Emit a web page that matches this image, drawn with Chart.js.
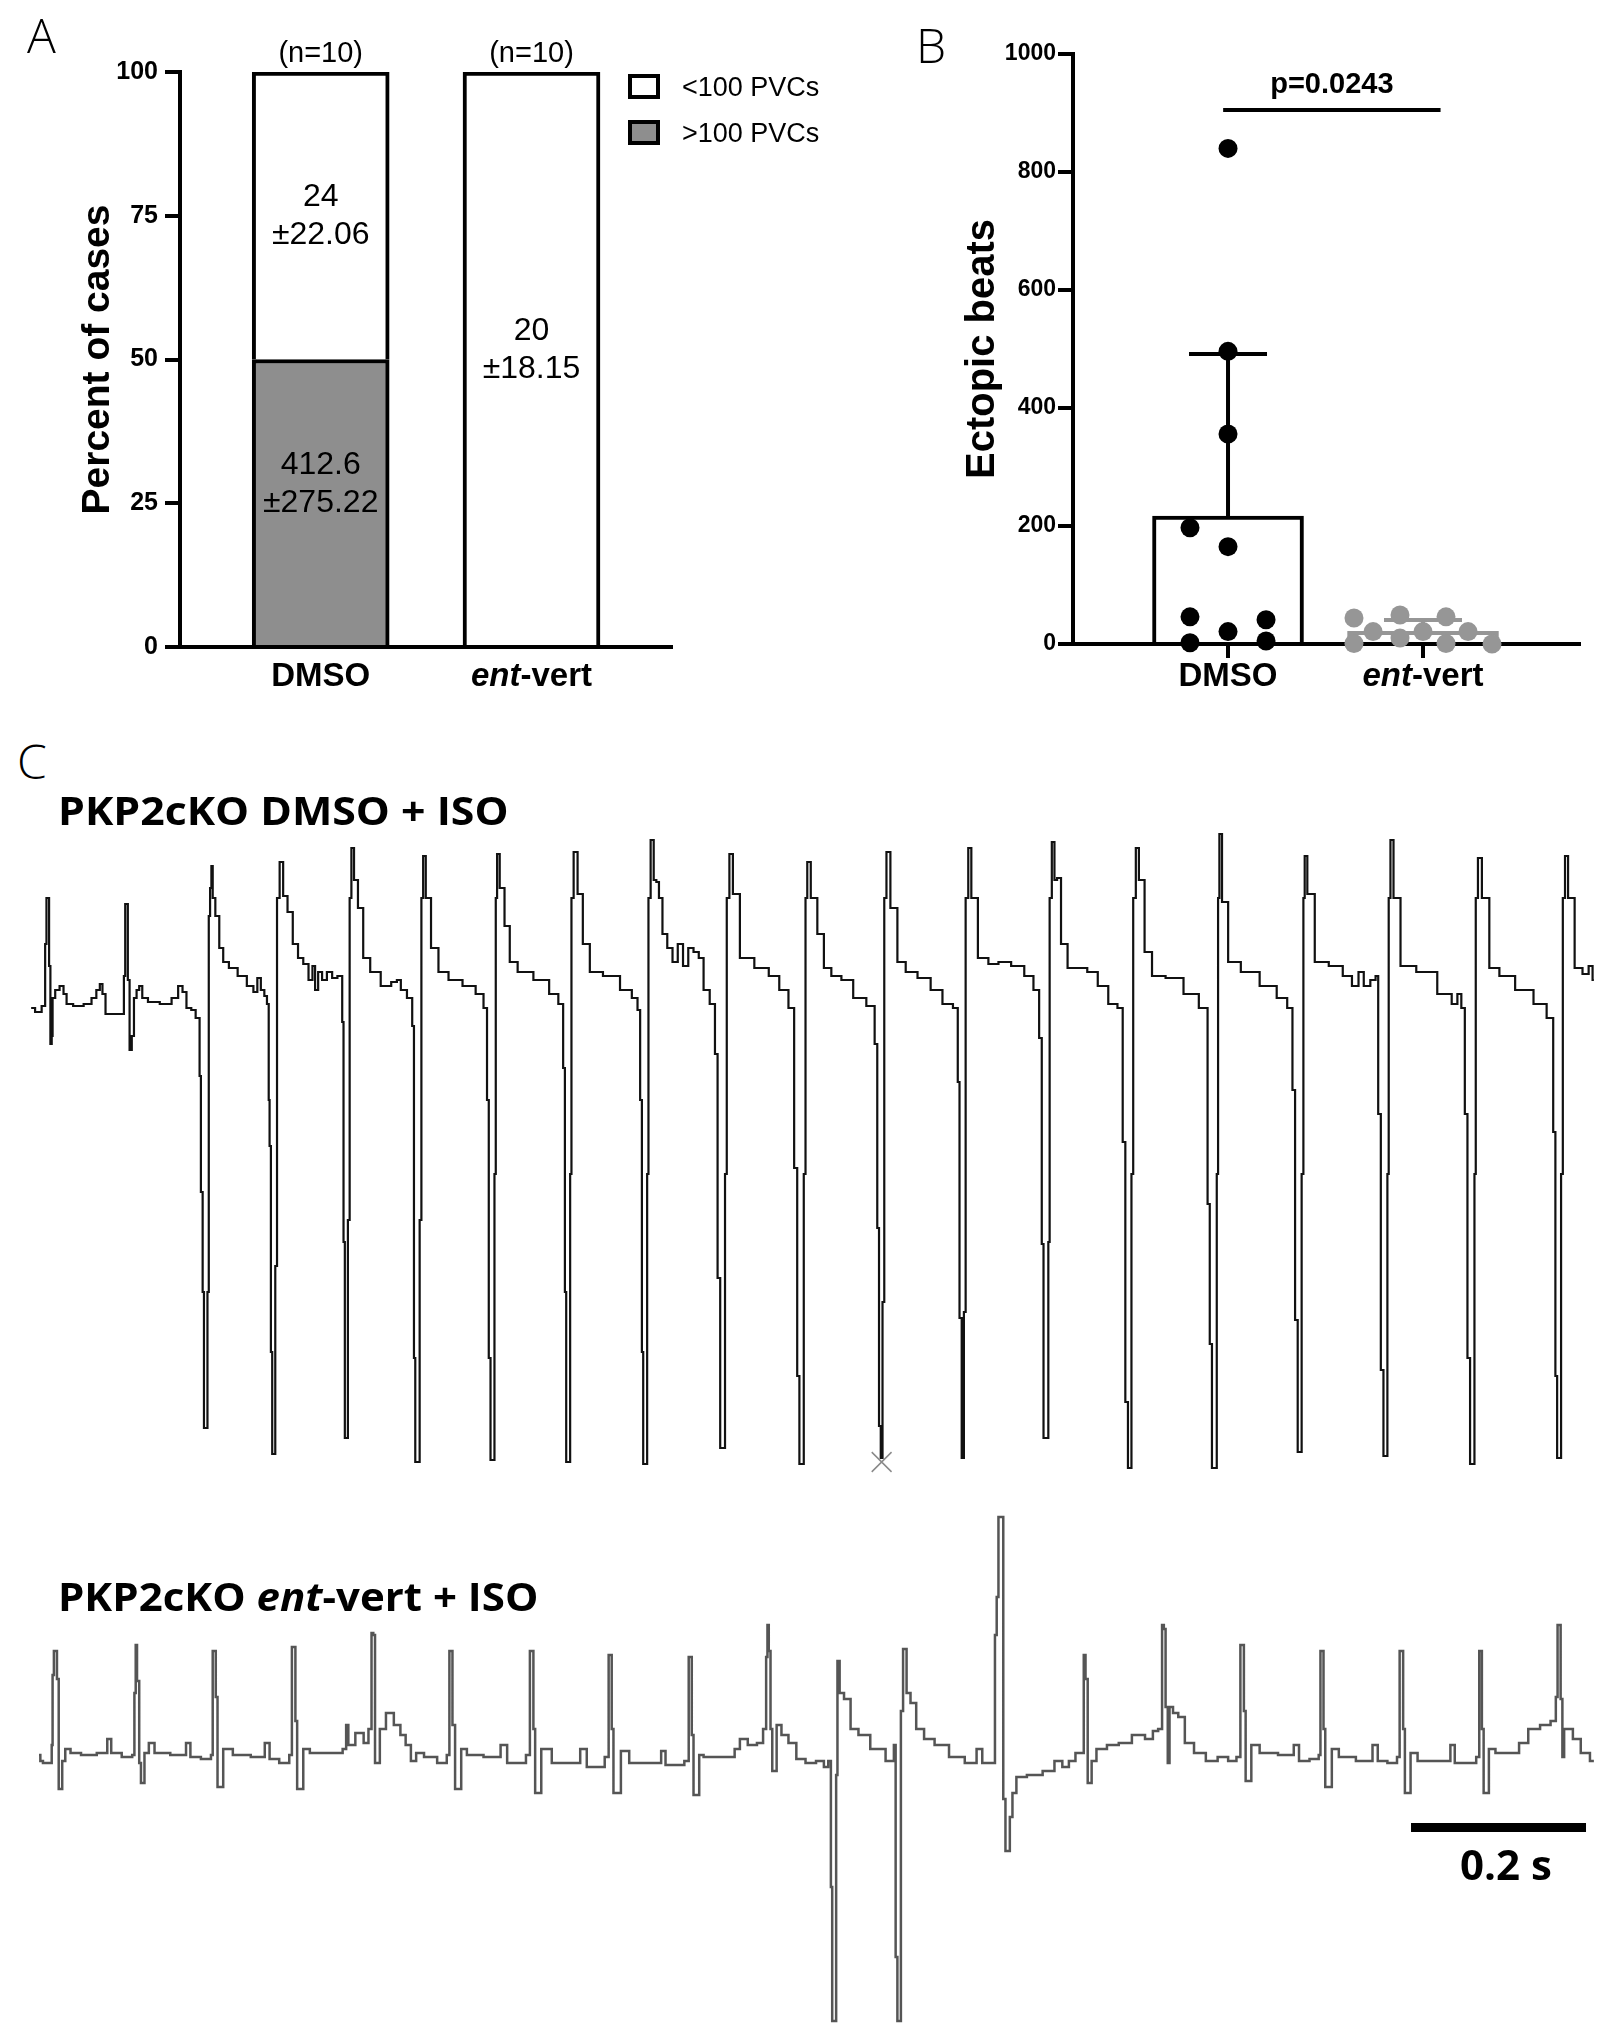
<!DOCTYPE html>
<html>
<head>
<meta charset="utf-8">
<script src="https://cdn.jsdelivr.net/npm/chart.js@4.4.1/dist/chart.umd.min.js"></script>
<style>
	body { margin: 0; background: #fff; width: 1619px; height: 2036px; position: relative; overflow: hidden; }
	canvas { position: absolute; }
	.lbl { position: absolute; font-family: "Open Sans", sans-serif; color: #000; white-space: nowrap; line-height: 1; }
	.panel { font-size: 48px; font-weight: 300; }
	.title { font-size: 40px; font-weight: bold; transform-origin: left top; }
</style>
</head>
<body>
<canvas id="chartA" width="860" height="720" style="left:0;top:0"></canvas>
<canvas id="chartB" width="739" height="720" style="left:880px;top:0"></canvas>
<canvas id="traceDmso" width="1619" height="670" style="left:0;top:820px"></canvas>
<canvas id="traceEnt" width="1619" height="536" style="left:0;top:1500px"></canvas>

<div class="lbl panel" style="left:27px;top:11px">A</div>
<div class="lbl panel" style="left:916px;top:21px">B</div>
<div class="lbl panel" style="left:17px;top:737px">C</div>
<div class="lbl title" style="left:58px;top:790px;transform:scaleX(1.07)">PKP2cKO DMSO + ISO</div>
<div class="lbl title" style="left:58px;top:1576px;transform:scaleX(1.05)">PKP2cKO <i>ent</i>-vert + ISO</div>
<div class="lbl" style="left:1506px;top:1843px;font-size:42px;font-weight:bold;transform:translateX(-50%)">0.2 s</div>

<script>
// groups shared by panels A and B
const groups = ["DMSO", "ent-vert"];
const groupItalic = ["", "ent"];
const groupPos = [1, 2];
const groupN = ["(n=10)", "(n=10)"];

// panel A: percent of cases
const pctOver100 = [50, 0];
const pctUnder100 = [50, 100];
const under100Text = [["24", "±22.06"], ["20", "±18.15"]];
const over100Text = [["412.6", "±275.22"], null];

// panel B: ectopic beats per animal
const dmsoBeats = [840, 496, 356, 197, 165, 46, 41, 21, 2, 5];
const dmsoJitter = [0, 0, 0, -0.195, 0, -0.195, 0.195, 0, -0.195, 0.195];
const entBeats = [44, 1, 21, 49, 10, 21, 46, 1, 21, 0];
const entJitter = [-0.354, -0.354, -0.256, -0.118, -0.118, 0, 0.118, 0.118, 0.231, 0.354];
const sigSpan = [0.975, 2.09];
const sigHeight = 905;
const sigLabel = "p=0.0243";

// panel C: ECG traces, [time ms, mV]
const dmsoEcg = [
	[-1,0],[8,-0.02],[14,0.01],[16,0.32],[17,0.55],[19,0.55],[20,0.21],[22,-0.18],[23,-0.14],[24,0.05],[29,0.09],[34,0.11],[38,0.07],[41,0.02],[53,0.01],[65,0.02],[71,0.05],[76,0.09],[79,0.12],[82,0.07],[86,-0.03],[95,-0.03],[104,-0.03],[106,0.16],[107,0.52],[109,0.52],[110,0.14],[113,-0.21],[115,-0.14],[118,0.05],[121,0.09],[124,0.11],[128,0.05],[137,0.03],[155,0.02],[164,0.05],[170,0.11],[174,0.08],[179,0],[185,-0.01],[189,-0.05],
	[191,-0.05],[192,-0.34],[194,-0.92],[196,-1.42],[197,-2.1],[200,-2.1],[201,-1.42],[203,0.46],[204,0.6],[206,0.71],[207,0.55],[212,0.46],[216,0.3],[221,0.23],[229,0.2],[241,0.16],[250,0.11],[256,0.08],[259,0.15],[264,0.09],[267,0.06],
	[270,0.02],[271,-0.46],[272,-0.69],[274,-1.72],[275,-2.23],[277,-2.23],[279,-1.29],[281,0.55],[285,0.73],[289,0.56],[295,0.48],[301,0.32],[307,0.25],[313,0.22],[319,0.14],[322,0.21],[325,0.09],[329,0.18],[334,0.14],[340,0.18],[346,0.15],[352,0.16],
	[354,0.16],[355,-0.07],[357,-1.17],[358,-2.15],[360,-2.15],[362,-1.06],[364,0.55],[366,0.8],[370,0.64],[375,0.5],[382,0.25],[391,0.18],[406,0.11],[415,0.13],[419,0.14],[424,0.09],[433,0.05],
	[436,-0.09],[437,-1.75],[439,-2.27],[442,-2.27],[444,-1.06],[446,0.55],[448,0.76],[452,0.55],[460,0.3],[469,0.18],[483,0.14],[501,0.11],[513,0.07],[519,0],
	[521,-0.46],[523,-1.75],[525,-2.26],[528,-2.26],[529,-0.83],[531,0.55],[532,0.77],[537,0.6],[543,0.41],[549,0.23],[561,0.18],[585,0.14],[597,0.07],[606,0.02],
	[608,-0.3],[610,-1.42],[611,-2.27],[614,-2.27],[616,-0.83],[617,0.55],[621,0.78],[626,0.57],[633,0.32],[642,0.18],[663,0.16],[681,0.09],[690,0.05],[694,-0.01],
	[696,-0.46],[698,-1.72],[699,-2.28],[702,-2.28],[704,-0.83],[705,0.55],[709,0.84],[712,0.64],[715,0.63],[718,0.55],[723,0.37],[729,0.3],[735,0.23],[741,0.32],[747,0.21],[753,0.3],[759,0.28],[765,0.25],[770,0.09],[779,0.02],
	[782,-0.23],[785,-1.35],[788,-2.2],[791,-2.2],[793,-0.83],[795,0.55],[799,0.77],[803,0.57],[815,0.25],[836,0.2],[848,0.16],[860,0.09],[869,0],
	[873,-0.8],[876,-1.84],[878,-2.28],[881,-2.28],[883,-0.83],[885,0.55],[887,0.73],[893,0.55],[902,0.37],[908,0.2],[919,0.16],[931,0.14],[946,0.05],[961,0.01],
	[965,-0.18],[967,-1.1],[969,-2.09],[971,-2.25],[973,-1.47],[975,0.55],[978,0.78],[984,0.5],[994,0.23],[1003,0.18],[1021,0.15],[1033,0.09],[1048,0.02],[1057,0],
	[1059,-0.37],[1061,-1.55],[1064,-2.25],[1066,-1.52],[1068,0.55],[1072,0.8],[1075,0.55],[1087,0.25],[1099,0.22],[1110,0.23],[1128,0.21],[1140,0.16],[1149,0.09],
	[1153,-0.15],[1155,-1.18],[1157,-2.15],[1161,-2.15],[1162,-1.17],[1164,0.55],[1167,0.83],[1170,0.64],[1173,0.65],[1179,0.32],[1188,0.2],[1200,0.2],[1212,0.18],[1224,0.11],[1236,0.02],[1245,0],
	[1248,-0.67],[1251,-1.97],[1254,-2.3],[1256,-2.3],[1257,-0.83],[1260,0.55],[1263,0.8],[1267,0.64],[1276,0.28],[1284,0.16],[1307,0.15],[1325,0.07],[1342,0],
	[1345,-0.98],[1347,-1.68],[1350,-2.3],[1353,-2.3],[1355,-0.83],[1356,0.55],[1358,0.87],[1362,0.53],[1372,0.23],[1391,0.18],[1415,0.11],[1430,0.05],[1439,0],
	[1442,-0.41],[1445,-1.56],[1448,-2.22],[1450,-2.22],[1452,-0.83],[1454,0.55],[1455,0.76],[1460,0.57],[1472,0.23],[1492,0.21],[1504,0.16],[1513,0.11],[1519,0.18],[1525,0.11],[1534,0.14],[1537,0.16],
	[1540,-0.53],[1543,-1.81],[1546,-2.24],[1548,-2.24],[1550,-0.83],[1551,0.55],[1554,0.84],[1558,0.55],[1570,0.21],[1594,0.18],[1618,0.07],[1627,0.02],[1631,0.07],[1636,0],
	[1639,-0.53],[1642,-1.75],[1645,-2.28],[1648,-2.28],[1649,-0.83],[1651,0.55],[1654,0.75],[1660,0.55],[1671,0.2],[1683,0.16],[1707,0.09],[1725,0.02],[1737,-0.05],
	[1740,-0.62],[1742,-1.84],[1744,-2.25],[1747,-2.25],[1748,-0.83],[1751,0.55],[1753,0.76],[1758,0.55],[1768,0.2],[1776,0.17],[1782,0.21],[1785,0.14],
];
const entEcg = [
	[8,0],[11,-0.03],[14,-0.04],[22,-0.04],[23,0.05],[24,0.4],[26,0.52],[28,0.52],[29,0.38],[32,-0.17],[34,-0.17],[35,-0.03],[41,0.03],[47,0.01],[65,0],[83,0.01],[89,0.08],[92,0.01],[113,-0.01],
	[116,0],[118,0.31],[119,0.55],[121,0.37],[124,-0.04],[125,-0.14],[127,-0.14],[130,0.01],[137,0.06],[143,0.01],[173,0],[179,0.06],[183,-0.01],[203,-0.02],
	[206,0],[207,0.52],[209,0.52],[211,0.29],[213,-0.16],[216,-0.16],[221,0.03],[238,0],[262,-0.01],[270,0.06],[273,-0.02],[292,-0.04],
	[296,0],[298,0.54],[300,0.54],[302,0.17],[304,-0.17],[307,-0.17],[313,0.03],[322,0.01],[352,0.01],[358,0.03],[360,0.15],[363,0.05],[376,0.11],[382,0.06],[387,0.13],
	[389,0.61],[391,0.6],[393,-0.04],[395,-0.04],[400,0.13],[409,0.21],[418,0.15],[424,0.1],[430,0.05],[436,-0.03],[442,0.01],[454,-0.01],[472,-0.04],
	[476,0],[478,0.52],[479,0.52],[482,0.15],[485,-0.17],[488,-0.17],[493,0.03],[501,0],[531,-0.01],[540,0.05],[546,-0.04],[561,-0.04],
	[568,0],[570,0.52],[572,0.52],[574,0.13],[576,-0.19],[579,-0.19],[585,0.03],[603,-0.04],[621,-0.04],[632,0.03],[636,-0.06],[651,-0.06],
	[658,-0.01],[660,0.5],[662,0.5],[663,0.13],[666,-0.19],[668,-0.19],[678,0.02],[687,-0.04],[717,-0.04],[721,0.02],[727,-0.05],[741,-0.05],
	[750,-0.03],[751,0.49],[753,0.49],[755,0.1],[757,-0.2],[760,-0.2],[765,0],[770,-0.01],[800,-0.01],[806,0.03],[812,0.08],[824,0.05],[833,0.06],[838,0.13],
	[840,0.49],[841,0.65],[843,0.52],[845,0.13],[847,-0.08],[849,-0.08],[853,0.15],[860,0.1],[869,0.06],[878,-0.02],
	[890,-0.04],[902,-0.03],[908,-0.06],[912,-0.03],
	[914,-0.66],[915,-1.33],[918,-1.33],[920,-0.1],[921,0.47],[925,0.31],[931,0.28],[940,0.13],[949,0.1],[967,0.03],[984,-0.03],
	[986,0.05],[988,-1.01],[990,-1.33],[992,-1.33],[994,0.22],[997,0.53],[1002,0.31],[1006,0.26],[1015,0.13],[1024,0.08],[1039,0.05],[1057,-0.01],[1075,-0.04],[1084,0.03],[1088,-0.04],[1099,-0.04],
	[1102,0.6],[1103,0.79],[1106,1.19],[1109,1.19],[1111,-0.22],[1114,-0.48],[1116,-0.48],[1119,-0.31],[1122,-0.19],[1128,-0.11],[1146,-0.1],[1164,-0.08],[1173,-0.03],[1182,-0.06],[1188,-0.03],[1197,0.01],
	[1201,0.01],[1203,0.5],[1205,0.38],[1208,-0.14],[1210,-0.14],[1212,-0.03],[1221,0.03],[1236,0.05],[1248,0.06],[1266,0.1],[1278,0.08],[1284,0.12],[1290,0.13],
	[1293,0.65],[1294,0.63],[1297,0.24],[1299,-0.04],[1301,0.24],[1307,0.21],[1313,0.19],[1322,0.06],[1334,0.01],[1349,-0.03],[1361,-0.01],[1373,-0.03],
	[1380,-0.01],[1382,0.55],[1384,0.55],[1386,0.22],[1388,-0.13],[1390,-0.13],[1397,0.05],[1409,0.01],[1439,0],[1445,0.05],[1451,-0.03],[1469,-0.02],
	[1472,0],[1473,0.52],[1475,0.52],[1477,0.13],[1479,-0.16],[1482,-0.16],[1489,0.03],[1498,-0.01],[1528,-0.03],[1536,0.05],[1540,-0.03],[1558,-0.04],
	[1562,-0.01],[1564,0.52],[1566,0.52],[1568,0.13],[1570,-0.19],[1572,-0.19],[1579,0.01],[1588,-0.03],[1618,-0.03],[1624,0.05],[1628,-0.04],[1648,-0.04],
	[1653,-0.01],[1655,0.52],[1656,0.52],[1658,0.13],[1660,-0.19],[1662,-0.19],[1668,0.03],[1677,0.01],[1695,0.01],[1704,0.06],[1716,0.13],[1731,0.15],[1740,0.17],
	[1743,0.29],[1744,0.65],[1746,0.65],[1748,0.28],[1750,-0.01],[1752,0.13],[1758,0.13],[1764,0.08],[1776,0.01],[1785,-0.03],
];
const pvcMark = [971, -2.27];
const scaleBarMs = [1576, 1776];
const scaleBarMv = -0.3625;

const sansFont = '"Liberation Sans", Arial, sans-serif';
Chart.defaults.font.family = sansFont;
Chart.defaults.color = "#000";
Chart.defaults.layout.autoPadding = false;
const gray = "#969696";

function meanSd(values) {
	const m = values.reduce((a, b) => a + b, 0) / values.length;
	const v = values.reduce((a, b) => a + (b - m) ** 2, 0) / (values.length - 1);
	return [m, Math.sqrt(v)];
}

const groupLabelPlugin = {
	id: "groupLabels",
	afterDraw(chart, args, opts) {
		const { ctx, chartArea, scales } = chart;
		const y = chartArea.bottom + opts.offset;
		ctx.save();
		ctx.fillStyle = "#000";
		ctx.textBaseline = "middle";
		ctx.textAlign = "left";
		groups.forEach((g, i) => {
			const ital = groupItalic[i];
			const rest = g.slice(ital.length);
			const fI = `italic bold ${opts.size}px ${sansFont}`;
			const fN = `bold ${opts.size}px ${sansFont}`;
			ctx.font = fI;
			const wI = ctx.measureText(ital).width;
			ctx.font = fN;
			const wN = ctx.measureText(rest).width;
			const left = scales.x.getPixelForValue(groupPos[i]) - (wI + wN) / 2;
			ctx.font = fI;
			ctx.fillText(ital, left, y);
			ctx.font = fN;
			ctx.fillText(rest, left + wI, y);
		});
		ctx.restore();
	},
};

const barTextPlugin = {
	id: "barText",
	afterDatasetsDraw(chart, args, opts) {
		const ctx = chart.ctx;
		ctx.save();
		ctx.fillStyle = "#000";
		ctx.textAlign = "center";
		ctx.textBaseline = "middle";
		ctx.font = `32px ${sansFont}`;
		[[1, under100Text, opts.underShift], [0, over100Text, opts.overShift]].forEach(([di, texts, shift]) => {
			chart.getDatasetMeta(di).data.forEach((bar, i) => {
				const t = texts[i];
				if (!t) return;
				const mid = (bar.y + bar.base) / 2 + shift[i];
				ctx.fillText(t[0], bar.x, mid - 19);
				ctx.fillText(t[1], bar.x, mid + 19);
			});
		});
		ctx.font = `29px ${sansFont}`;
		chart.getDatasetMeta(1).data.forEach((bar, i) => {
			ctx.fillText(groupN[i], bar.x, bar.y - 18);
		});
		ctx.restore();
	},
};

const legendBoxPlugin = {
	id: "legendBoxes",
	afterDraw(chart) {
		const { ctx, chartArea } = chart;
		const items = [chart.data.datasets[1], chart.data.datasets[0]];
		ctx.save();
		ctx.font = `27px ${sansFont}`;
		ctx.textBaseline = "middle";
		ctx.textAlign = "left";
		items.forEach((ds, i) => {
			const left = chartArea.right - 44;
			const top = chartArea.top + 2 + i * 46;
			ctx.fillStyle = ds.backgroundColor;
			ctx.fillRect(left, top, 32, 25);
			ctx.lineWidth = 4;
			ctx.strokeStyle = "#000";
			ctx.strokeRect(left + 2, top + 2, 28, 21);
			ctx.fillStyle = "#000";
			ctx.fillText(ds.label, left + 54, top + 15);
		});
		ctx.restore();
	},
};

const sigPlugin = {
	id: "sigText",
	afterDraw(chart) {
		const { ctx, scales } = chart;
		const x = scales.x.getPixelForValue((sigSpan[0] + sigSpan[1]) / 2);
		const y = scales.y.getPixelForValue(sigHeight) - 25;
		ctx.save();
		ctx.font = `bold 29px ${sansFont}`;
		ctx.fillStyle = "#000";
		ctx.textAlign = "center";
		ctx.textBaseline = "middle";
		ctx.fillText(sigLabel, x, y);
		ctx.restore();
	},
};

// ---- panel A
new Chart(document.getElementById("chartA"), {
	type: "bar",
	data: {
		datasets: [
			{
				label: ">100 PVCs",
				data: groupPos.map((x, i) => ({ x, y: pctOver100[i] })),
				backgroundColor: "#8e8e8e",
				borderColor: "#000",
				borderWidth: 4,
				barThickness: 137,
			},
			{
				label: "<100 PVCs",
				data: groupPos.map((x, i) => ({ x, y: pctUnder100[i] })),
				backgroundColor: "#ffffff",
				borderColor: "#000",
				borderWidth: 4,
				barThickness: 137,
			},
		],
	},
	options: {
		responsive: false,
		animation: false,
		events: [],
		layout: { padding: { top: 72, right: 188, left: 0, bottom: 0 } },
		scales: {
			x: {
				type: "linear",
				stacked: true,
				min: 0.3325,
				max: 2.6665,
				offset: false,
				grid: { display: false },
				ticks: { display: false },
				border: { color: "#000", width: 4 },
				afterFit: (s) => { s.height = 73; },
			},
			y: {
				stacked: true,
				min: 0,
				max: 100,
				ticks: { stepSize: 25, padding: 7, font: { size: 25, weight: "bold" } },
				grid: { drawOnChartArea: false, tickLength: 15, lineWidth: 4, color: "#000" },
				border: { color: "#000", width: 4 },
				title: { display: true, text: "Percent of cases", font: { size: 39, weight: "bold" }, padding: { top: 75, bottom: 0 } },
				afterFit: (s) => { s.width = 180; },
			},
		},
		plugins: {
			legend: { display: false },
			tooltip: { enabled: false },
			groupLabels: { size: 33, offset: 30 },
			barText: { underShift: [0, -8], overShift: [-18, 0] },
		},
	},
	plugins: [groupLabelPlugin, barTextPlugin, legendBoxPlugin],
});

// ---- panel B
const groupStats = [meanSd(dmsoBeats), meanSd(entBeats)];
const groupColors = ["#000", gray];

const errorSets = [];
groupStats.forEach(([m, sd], i) => {
	const x = groupPos[i];
	const line = { type: "scatter", showLine: true, borderColor: groupColors[i], borderWidth: 4, pointRadius: 0, clip: false };
	errorSets.push({ ...line, data: [{ x, y: m }, { x, y: m + sd }] });
	errorSets.push({ ...line, data: [{ x: x - 0.2, y: m + sd }, { x: x + 0.2, y: m + sd }] });
});

new Chart(document.getElementById("chartB"), {
	type: "scatter",
	data: {
		datasets: [
			{
				data: dmsoBeats.map((y, i) => ({ x: groupPos[0] + dmsoJitter[i], y })),
				backgroundColor: "#000",
				pointRadius: 9.5,
				pointBorderWidth: 0,
				clip: false,
			},
			{
				data: entBeats.map((y, i) => ({ x: groupPos[1] + entJitter[i], y })),
				backgroundColor: gray,
				pointRadius: 9.5,
				pointBorderWidth: 0,
				clip: false,
			},
			...errorSets,
			{
				type: "scatter",
				showLine: true,
				data: [{ x: sigSpan[0], y: sigHeight }, { x: sigSpan[1], y: sigHeight }],
				borderColor: "#000",
				borderWidth: 4,
				pointRadius: 0,
			},
			{
				type: "bar",
				data: groupPos.map((x, i) => ({ x, y: groupStats[i][0] })),
				backgroundColor: "#fff",
				borderColor: groupColors,
				borderWidth: 4,
				barThickness: 151,
			},
		],
	},
	options: {
		responsive: false,
		animation: false,
		events: [],
		layout: { padding: { top: 54, right: 40, left: 0, bottom: 0 } },
		scales: {
			x: {
				type: "linear",
				min: 0.205,
				max: 2.8,
				offset: false,
				afterBuildTicks: (s) => { s.ticks = groupPos.map((v) => ({ value: v })); },
				ticks: { callback: () => "" },
				grid: { offset: false, drawOnChartArea: false, tickLength: 14, lineWidth: 4, color: "#000" },
				border: { color: "#000", width: 4 },
				afterFit: (s) => { s.height = 76; },
			},
			y: {
				min: 0,
				max: 1000,
				ticks: { stepSize: 200, padding: 2, font: { size: 23, weight: "bold" }, callback: (v) => String(v) },
				grid: { drawOnChartArea: false, tickLength: 15, lineWidth: 4, color: "#000" },
				border: { color: "#000", width: 4 },
				title: { display: true, text: "Ectopic beats", font: { size: 40, weight: "bold" }, padding: { top: 79, bottom: 0 } },
				afterFit: (s) => { s.width = 193; },
			},
		},
		plugins: { legend: { display: false }, tooltip: { enabled: false }, groupLabels: { size: 33, offset: 33 } },
	},
	plugins: [groupLabelPlugin, sigPlugin],
});

// ---- panel C
function drawTrace(id, points, color, width, yMin, yMax, extra) {
	return new Chart(document.getElementById(id), {
		type: "scatter",
		data: {
			datasets: [
				...extra,
				{
					data: points.map((p) => ({ x: p[0], y: p[1] })),
					showLine: true,
					stepped: "middle",
					borderColor: color,
					borderWidth: width,
					pointRadius: 0,
					clip: false,
				},
			],
		},
		options: {
			responsive: false,
			animation: false,
			events: [],
			layout: { padding: 0, autoPadding: false },
			scales: {
				x: { type: "linear", display: false, min: -36.6, max: 1813.7 },
				y: { display: false, min: yMin, max: yMax },
			},
			plugins: { legend: { display: false }, tooltip: { enabled: false } },
		},
	});
}

drawTrace("traceDmso", dmsoEcg, "#111", 2.2, -2.41, 0.94, [
	{
		data: [{ x: pvcMark[0], y: pvcMark[1] }],
		pointStyle: "crossRot",
		pointRadius: 14,
		borderColor: "#8a8a8a",
		pointBorderWidth: 1.5,
		clip: false,
	},
]);

drawTrace("traceEnt", entEcg, "#555", 2.5, -1.405, 1.275, [
	{
		data: scaleBarMs.map((t) => ({ x: t, y: scaleBarMv })),
		showLine: true,
		borderColor: "#000",
		borderWidth: 9,
		pointRadius: 0,
		clip: false,
	},
]);
</script>
</body>
</html>
